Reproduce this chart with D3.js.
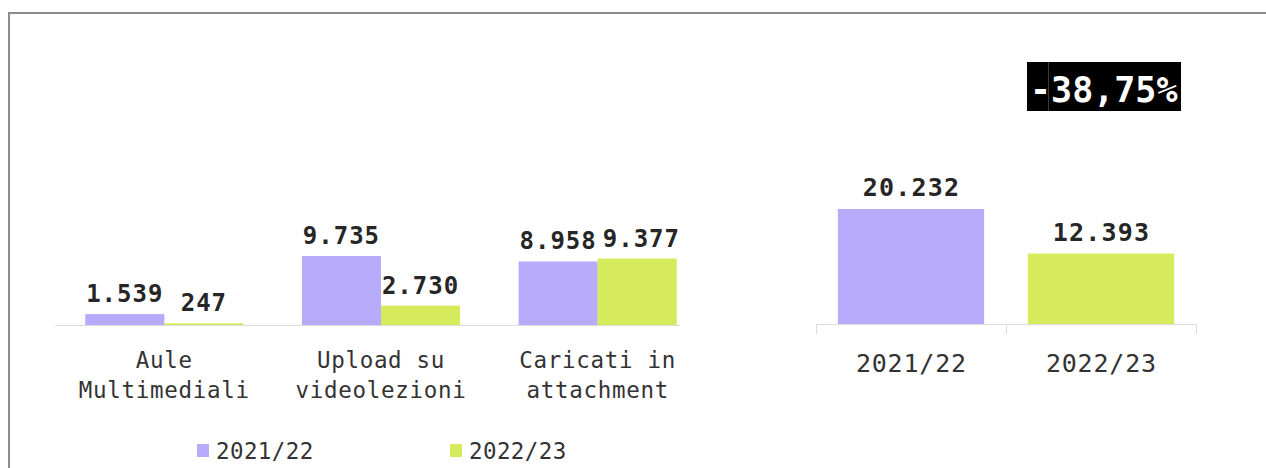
<!DOCTYPE html>
<html>
<head>
<meta charset="utf-8">
<script src="https://cdn.jsdelivr.net/npm/d3@7"></script>
<style>
  html, body { margin: 0; padding: 0; background: #fff; }
  svg { display: block; }
</style>
</head>
<body>
<div id="chart"></div>
<script>
// Data
const categories = [["Aule", "Multimediali"], ["Upload su", "videolezioni"], ["Caricati in", "attachment"]];
const seriesNames = ["2021/22", "2022/23"];
const values2122 = [1539, 9735, 8958];
const values2223 = [247, 2730, 9377];
const totals = [20232, 12393];
const changeLabel = "-38,75%";

const colors = ["#b8abfb", "#d5eb5c"];
const mono = "'DejaVu Sans Mono', 'Liberation Mono', monospace";
const fmt = v => d3.format(",")(v).replace(/,/g, ".");

const W = 1266, H = 468;
const svg = d3.select("#chart").append("svg").attr("width", W).attr("height", H);

// frame
svg.append("path")
  .attr("d", `M9,${H} L9,13 L${W},13`)
  .attr("fill", "none").attr("stroke", "#8c8c8c").attr("stroke-width", 2);

// ---- Left grouped bar chart ----
const base = 325;
const x0 = d3.scaleBand().domain(d3.range(categories.length)).range([56, 706])
  .paddingInner(0.27).paddingOuter(0.135);
const x1 = d3.scaleBand().domain(seriesNames).range([0, x0.bandwidth()]);
const yL = d3.scaleLinear().domain([0, 10000]).range([base, base - 70.9]);

svg.append("line").attr("x1", 55).attr("x2", 680).attr("y1", base + 0.5).attr("y2", base + 0.5)
  .attr("stroke", "#dcdcdc").attr("stroke-width", 1);

const rows = categories.map((c, i) => [values2122[i], values2223[i]]);
const groups = svg.selectAll("g.grp").data(rows).join("g")
  .attr("class", "grp")
  .attr("transform", (d, i) => `translate(${x0(i)},0)`);

groups.selectAll("rect").data(d => d.map((v, j) => ({ v, s: seriesNames[j], j })))
  .join("rect")
  .attr("x", d => x1(d.s))
  .attr("width", x1.bandwidth())
  .attr("y", d => yL(d.v))
  .attr("height", d => base - yL(d.v))
  .attr("fill", d => colors[d.j]);

groups.each(function () {
  const labels = d3.select(this).selectAll("text.val")
    .data(d => d.map((v, j) => ({ v, s: seriesNames[j] })))
    .join("text").attr("class", "val")
    .attr("x", d => x1(d.s) + x1.bandwidth() / 2)
    .attr("y", d => yL(d.v) - 12)
    .attr("text-anchor", "middle")
    .attr("font-family", mono).attr("font-weight", "bold").attr("font-size", 24)
    .attr("letter-spacing", 1)
    .attr("fill", "#262626")
    .text(d => fmt(d.v));
  // nudge the second label right when the pair would touch
  const nodes = labels.nodes();
  const a = nodes[0].getBBox(), b = nodes[1].getBBox();
  const overlapY = a.y < b.y + b.height && b.y < a.y + a.height;
  const gap = b.x - (a.x + a.width);
  if (overlapY && gap < 6) {
    d3.select(nodes[1]).attr("x", +d3.select(nodes[1]).attr("x") + (6 - gap));
  }
});

// category labels
const catText = svg.selectAll("text.cat").data(categories).join("text")
  .attr("class", "cat")
  .attr("text-anchor", "middle")
  .attr("font-family", mono).attr("font-size", 22.5)
  .attr("letter-spacing", 0.7)
  .attr("fill", "#333");
catText.selectAll("tspan").data((d, i) => d.map(t => ({ t, i }))).join("tspan")
  .attr("x", d => x0(d.i) + x0.bandwidth() / 2)
  .attr("y", (d, k) => 368 + k * 30)
  .text(d => d.t);

// legend
const legend = svg.selectAll("g.leg").data(seriesNames).join("g")
  .attr("class", "leg")
  .attr("transform", (d, i) => `translate(${197 + i * 253},444)`);
legend.append("rect").attr("width", 12).attr("height", 13).attr("fill", (d, i) => colors[i]);
legend.append("text").attr("x", 19).attr("y", 15)
  .attr("font-family", mono).attr("font-size", 22.5).attr("fill", "#333")
  .attr("letter-spacing", 0.4)
  .text(d => d);

// ---- Right totals chart ----
const baseR = 324;
const xR = d3.scaleBand().domain(seriesNames).range([816, 1196])
  .paddingInner(0.23).paddingOuter(0.115);
const yR = d3.scaleLinear().domain([0, 20232]).range([baseR, baseR - 115]);

svg.selectAll("rect.tot").data(totals).join("rect").attr("class", "tot")
  .attr("x", (d, i) => xR(seriesNames[i]))
  .attr("width", xR.bandwidth())
  .attr("y", d => yR(d))
  .attr("height", d => baseR - yR(d))
  .attr("fill", (d, i) => colors[i]);

svg.selectAll("text.totv").data(totals).join("text").attr("class", "totv")
  .attr("x", (d, i) => xR(seriesNames[i]) + xR.bandwidth() / 2 + 0.6)
  .attr("y", d => yR(d) - 13)
  .attr("text-anchor", "middle")
  .attr("font-family", mono).attr("font-weight", "bold").attr("font-size", 25)
  .attr("letter-spacing", 1.2)
  .attr("fill", "#262626")
  .text(d => fmt(d));

// axis with ticks at band edges
const edges = [816, 1006, 1196];
svg.append("line").attr("x1", 816).attr("x2", 1196).attr("y1", baseR + 0.5).attr("y2", baseR + 0.5)
  .attr("stroke", "#dcdcdc");
svg.selectAll("line.tk").data(edges).join("line").attr("class", "tk")
  .attr("x1", d => d + 0.5).attr("x2", d => d + 0.5)
  .attr("y1", baseR).attr("y2", baseR + 10)
  .attr("stroke", "#dcdcdc");

svg.selectAll("text.yr").data(seriesNames).join("text").attr("class", "yr")
  .attr("x", d => xR(d) + xR.bandwidth() / 2 + 0.4)
  .attr("y", 372)
  .attr("text-anchor", "middle")
  .attr("font-family", mono).attr("font-size", 25)
  .attr("letter-spacing", 0.8)
  .attr("fill", "#333")
  .text(d => d);

// change badge
const badge = svg.append("g").attr("transform", "translate(1027,62)");
badge.append("rect").attr("width", 154).attr("height", 49).attr("fill", "#000");
badge.append("line").attr("x1", 21.5).attr("x2", 21.5).attr("y1", 0).attr("y2", 49)
  .attr("stroke", "#3a3a3a").attr("stroke-width", 1);
badge.append("text")
  .attr("x", 3).attr("y", 40)
  .attr("font-family", mono).attr("font-weight", "bold").attr("font-size", 35)
  .attr("fill", "#fff")
  .text(changeLabel);
</script>
</body>
</html>
